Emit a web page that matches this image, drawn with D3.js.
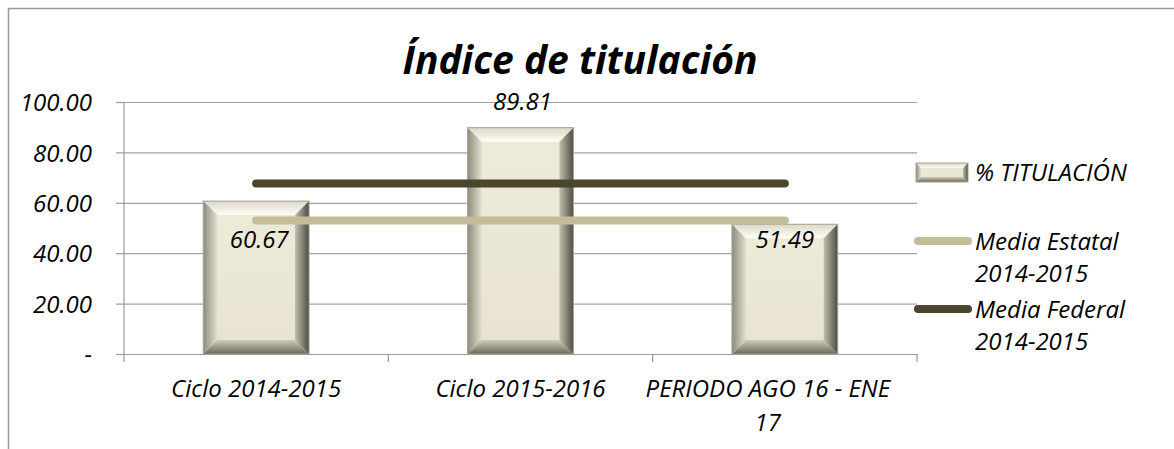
<!DOCTYPE html>
<html>
<head>
<meta charset="utf-8">
<script src="https://cdn.jsdelivr.net/npm/d3@7"></script>
<style>
  body { margin: 0; background: #fff; }
  text { font-family: "Open Sans", sans-serif; font-style: italic; fill: #000; }
</style>
</head>
<body>
<script>
// values
let categories = ["Ciclo 2014-2015", "Ciclo 2015-2016", "PERIODO AGO 16 - ENE 17"];
let titulacion = [60.67, 89.81, 51.49];
let mediaEstatal = [53.0, 53.0, 53.0];
let mediaFederal = [67.7, 67.7, 67.7];
let yTicks = [0, 20, 40, 60, 80, 100];

// label nudges (Excel placed them by hand)
let labelDx = [3, 2, 0];
let labelDy = [47, -18, 24];

let W = 1174, H = 449;
let margin = { left: 124, top: 102, right: 917, bottom: 354 };
let fs = 24;

let svg = d3.select("body")
  .append("svg")
  .attr("width", W)
  .attr("height", H);

let defs = svg.append("defs");

function grad(id, x2, y2, c1, c2) {
  let g = defs.append("linearGradient")
    .attr("id", id)
    .attr("x1", 0).attr("y1", 0)
    .attr("x2", x2).attr("y2", y2);
  g.append("stop").attr("offset", "0%").attr("stop-color", c1);
  g.append("stop").attr("offset", "100%").attr("stop-color", c2);
}
grad("bvTop", 0, 1, "#dcd9ca", "#fefdf6");
grad("bvLeft", 1, 0, "#8d8b7e", "#e2dfcd");
grad("bvRight", 1, 0, "#c2bfae", "#4e4c43");
grad("bvBottom", 0, 1, "#cfccba", "#6c6a5f");
grad("face", 0, 1, "#eeebda", "#e7e3cf");

// outer chart border
svg.append("rect")
  .attr("x", 8.5).attr("y", 8.5)
  .attr("width", 1300).attr("height", 600)
  .attr("fill", "none")
  .attr("stroke", "#9a9a9a")
  .attr("stroke-width", 1.5);

let xScale = d3.scaleBand()
  .domain(categories)
  .range([margin.left, margin.right])
  .padding(0);

let yScale = d3.scaleLinear()
  .domain([0, 100])
  .range([margin.bottom, margin.top]);

let barW = xScale.bandwidth() * 0.4;
let cx = d => xScale(d) + xScale.bandwidth() / 2;

// gridlines
let grid = svg.append("g")
  .attr("transform", `translate(${margin.left},0)`)
  .call(d3.axisLeft(yScale).tickValues(yTicks).tickSize(-(margin.right - margin.left)).tickFormat(""));
grid.select(".domain").remove();
grid.selectAll("line").attr("stroke", "#a3a3a3").attr("stroke-width", 1.2);

// y axis with outside ticks and labels
let yAxis = svg.append("g")
  .attr("transform", `translate(${margin.left},0)`)
  .call(d3.axisLeft(yScale)
    .tickValues(yTicks)
    .tickSize(8)
    .tickPadding(24)
    .tickFormat(d => d === 0 ? "-" : d.toFixed(2)));
yAxis.select(".domain").attr("stroke", "#9a9a9a").attr("stroke-width", 1.2).attr("d", `M0,${margin.top}V${margin.bottom}`);
yAxis.selectAll("line").attr("stroke", "#9a9a9a").attr("stroke-width", 1.2);
yAxis.selectAll("text")
  .attr("font-size", fs)
  .attr("font-family", "Open Sans")
  .attr("font-style", "italic")
  .attr("fill", "#000")
  .attr("dy", "0.36em");

// x axis: line, boundary ticks, labels
let xAxis = svg.append("g")
  .attr("transform", `translate(0,${margin.bottom})`)
  .call(d3.axisBottom(xScale).tickSize(0).tickPadding(26));
xAxis.select(".domain").attr("stroke", "#9a9a9a").attr("stroke-width", 1.2);
xAxis.selectAll("text")
  .attr("font-size", fs)
  .attr("font-family", "Open Sans")
  .attr("font-style", "italic")
  .attr("fill", "#000")
  .attr("dy", "0.71em")
  .each(function() { wrap(d3.select(this), 245); });

let bounds = categories.map(d => xScale(d)).concat([margin.right]);
svg.append("g").selectAll("line")
  .data(bounds)
  .enter()
  .append("line")
  .attr("x1", d => d).attr("x2", d => d)
  .attr("y1", margin.bottom).attr("y2", margin.bottom + 8)
  .attr("stroke", "#9a9a9a")
  .attr("stroke-width", 1.2);

function wrap(text, width) {
  let words = text.text().split(" ");
  if (text.node().getComputedTextLength() <= width) return;
  let last = words.pop();
  let y = text.attr("y");
  text.text(null);
  text.append("tspan").attr("x", -17).attr("y", y).attr("dy", "0.71em").text(words.join(" "));
  text.append("tspan").attr("x", -17).attr("y", y).attr("dy", "2.12em").text(last);
}

// bevelled bar
function bevel(g, x, y, w, h, b) {
  g.append("rect").attr("x", x).attr("y", y).attr("width", w).attr("height", h).attr("fill", "url(#face)");
  let pts = {
    bvTop: [[x, y], [x + w, y], [x + w - b, y + b], [x + b, y + b]],
    bvBottom: [[x, y + h], [x + w, y + h], [x + w - b, y + h - b], [x + b, y + h - b]],
    bvLeft: [[x, y], [x + b, y + b], [x + b, y + h - b], [x, y + h]],
    bvRight: [[x + w, y], [x + w - b, y + b], [x + w - b, y + h - b], [x + w, y + h]]
  };
  Object.keys(pts).forEach(k => {
    g.append("polygon")
      .attr("points", pts[k].map(p => p.join(",")).join(" "))
      .attr("fill", `url(#${k})`);
  });
  g.append("rect").attr("x", x).attr("y", y).attr("width", w).attr("height", h)
    .attr("fill", "none").attr("stroke", "#a19f92").attr("stroke-width", 1);
}

let bars = svg.append("g");
categories.forEach((c, i) => {
  let y0 = yScale(titulacion[i]);
  bevel(bars.append("g"), cx(c) - barW / 2, y0, barW, margin.bottom - y0, 14);
});

// average lines
let line = d3.line()
  .x((d, i) => cx(categories[i]))
  .y(d => yScale(d));

svg.append("path")
  .datum(mediaEstatal)
  .attr("d", line)
  .attr("fill", "none")
  .attr("stroke", "#c4bd97")
  .attr("stroke-width", 8)
  .attr("stroke-linecap", "round");

svg.append("path")
  .datum(mediaFederal)
  .attr("d", line)
  .attr("fill", "none")
  .attr("stroke", "#4a452c")
  .attr("stroke-width", 8)
  .attr("stroke-linecap", "round");

// data labels
svg.append("g").selectAll("text")
  .data(titulacion)
  .enter()
  .append("text")
  .attr("x", (d, i) => cx(categories[i]) + labelDx[i])
  .attr("y", (d, i) => yScale(d) + labelDy[i])
  .attr("text-anchor", "middle")
  .attr("font-size", fs)
  .text(d => d.toFixed(2));

// title
svg.append("text")
  .attr("x", 580)
  .attr("y", 74)
  .attr("text-anchor", "middle")
  .attr("font-size", 39)
  .attr("font-weight", "bold")
  .text("Índice de titulación");

// legend
let legend = svg.append("g");
bevel(legend.append("g"), 916, 163, 52, 19, 5);
legend.append("text").attr("x", 975).attr("y", 181).attr("font-size", fs).text("% TITULACIÓN");

let legendLines = [
  { name: ["Media Estatal", "2014-2015"], color: "#c4bd97", y: 241 },
  { name: ["Media Federal", "2014-2015"], color: "#4a452c", y: 309 }
];
legendLines.forEach(l => {
  legend.append("line")
    .attr("x1", 918).attr("x2", 968)
    .attr("y1", l.y).attr("y2", l.y)
    .attr("stroke", l.color)
    .attr("stroke-width", 8)
    .attr("stroke-linecap", "round");
  let t = legend.append("text").attr("x", 975).attr("y", l.y + 9).attr("font-size", fs);
  t.append("tspan").attr("x", 975).text(l.name[0]);
  t.append("tspan").attr("x", 975).attr("dy", 32).text(l.name[1]);
});
</script>
</body>
</html>
